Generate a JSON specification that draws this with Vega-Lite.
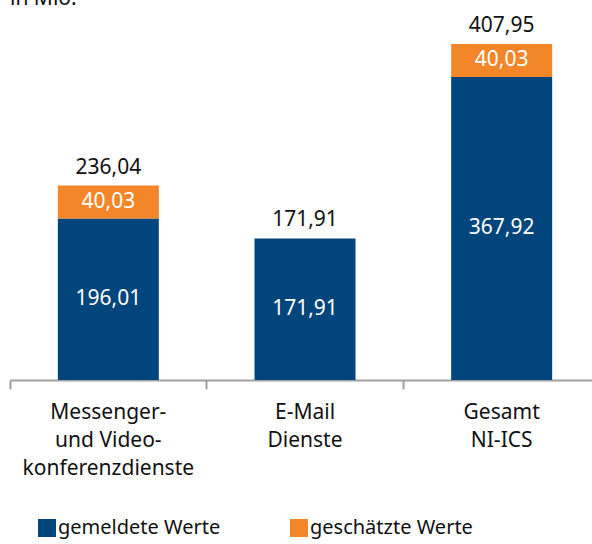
{
  "$schema": "https://vega.github.io/schema/vega-lite/v6.json",
  "autosize": "none",
  "width": 590,
  "height": 370,
  "padding": {"left": 10, "top": 10, "right": 0, "bottom": 164},
  "background": "white",
  "title": {"text": "in Mio.", "anchor": "start", "orient": "top", "offset": 1, "fontSize": 21, "font": "Noto Sans", "fontWeight": "normal", "color": "#111111", "frame": "group"},
  "data": {
    "values": [
      {"kategorie": "Messenger-\nund Video-\nkonferenzdienste", "reihe": "gemeldete Werte", "ord": 1, "wert": 196.01},
      {"kategorie": "Messenger-\nund Video-\nkonferenzdienste", "reihe": "geschätzte Werte", "ord": 2, "wert": 40.03},
      {"kategorie": "E-Mail\nDienste", "reihe": "gemeldete Werte", "ord": 1, "wert": 171.91},
      {"kategorie": "Gesamt\nNI-ICS", "reihe": "gemeldete Werte", "ord": 1, "wert": 367.92},
      {"kategorie": "Gesamt\nNI-ICS", "reihe": "geschätzte Werte", "ord": 2, "wert": 40.03}
    ]
  },
  "encoding": {
    "x": {
      "field": "kategorie", "type": "nominal", "sort": null,
      "scale": {"paddingInner": 0, "paddingOuter": 0},
      "axis": {
        "title": null, "labelAngle": 0, "bandPosition": 0,
        "labelExpr": "split(datum.label, '\\n')",
        "labelFontSize": 21, "labelFont": "Noto Sans", "labelColor": "#111111",
        "labelLineHeight": 28, "labelPadding": 12, "labelBaseline": "top",
        "domainColor": "#a0a0a0", "domainWidth": 2,
        "ticks": true, "tickColor": "#a0a0a0", "tickWidth": 2, "tickSize": 9,
        "grid": false
      }
    }
  },
  "layer": [
    {
      "mark": {"type": "bar", "size": 101},
      "encoding": {
        "y": {"field": "wert", "type": "quantitative", "stack": "zero", "scale": {"domain": [0, 449.2], "nice": false}, "axis": null},
        "color": {
          "field": "reihe", "type": "nominal",
          "scale": {"domain": ["gemeldete Werte", "geschätzte Werte"], "range": ["#00467c", "#f4862a"]},
          "legend": {
            "title": null, "orient": "bottom", "direction": "horizontal", "offset": 13, "padding": 27,
            "symbolType": "square", "symbolSize": 324, "symbolStrokeWidth": 0, "symbolOpacity": 1,
            "labelFontSize": 20, "labelFont": "Noto Sans", "labelColor": "#111111", "labelLimit": 400,
            "labelOffset": 1, "columnPadding": 68
          }
        },
        "order": {"field": "ord", "type": "quantitative"}
      }
    },
    {
      "mark": {"type": "text", "color": "white", "fontSize": 21, "font": "Noto Sans", "baseline": "middle"},
      "encoding": {
        "y": {"field": "wert", "type": "quantitative", "stack": "zero", "bandPosition": 0.5},
        "text": {"field": "wert", "type": "quantitative", "format": ".2f"},
        "order": {"field": "ord", "type": "quantitative"}
      }
    },
    {
      "mark": {"type": "text", "color": "#111111", "fontSize": 21, "font": "Noto Sans", "baseline": "bottom", "dy": -8},
      "encoding": {
        "y": {"aggregate": "sum", "field": "wert", "type": "quantitative"},
        "text": {"aggregate": "sum", "field": "wert", "type": "quantitative", "format": ".2f"}
      }
    }
  ],
  "config": {
    "view": {"stroke": null},
    "locale": {"number": {"decimal": ",", "thousands": ".", "grouping": [3], "currency": ["", " €"]}}
  }
}
